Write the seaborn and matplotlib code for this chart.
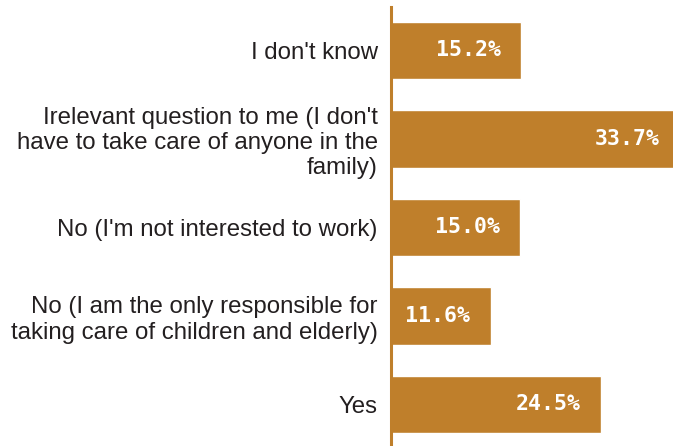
import matplotlib
matplotlib.use("Agg")
import matplotlib.pyplot as plt
import seaborn as sns
import pandas as pd

categories = [
    "I don't know",
    "Irelevant question to me (I don't\nhave to take care of anyone in the\nfamily)",
    "No (I'm not interested to work)",
    "No (I am the only responsible for\ntaking care of children and elderly)",
    "Yes",
]
values = [15.2, 33.7, 15.0, 11.6, 24.5]
value_labels = ["15.2%", "33.7%", "15.0%", "11.6%", "24.5%"]

bar_color = "#BF7F2B"

sns.set_theme(style="white")
plt.rcParams["font.family"] = ["Liberation Sans", "DejaVu Sans"]

W, H = 673, 446
fig = plt.figure(figsize=(W / 100, H / 100), dpi=100)
ax_left = 391 / W
ax = fig.add_axes([ax_left, 0, 1 - ax_left, (H - 7) / H])

df = pd.DataFrame({"category": categories, "value": values})
sns.barplot(data=df, x="value", y="category", orient="h", color=bar_color,
            saturation=1, width=0.65, ax=ax)

ax.set_xlim(0, (W - 391) / 8.58)
ax.set_ylim(4.47, -0.49)
ax.set_xlabel("")
ax.set_ylabel("")
ax.set_xticks([])
for s in ["top", "right", "bottom"]:
    ax.spines[s].set_visible(False)
ax.spines["left"].set_color(bar_color)
ax.spines["left"].set_linewidth(2.2)
ax.tick_params(axis="y", length=0, pad=9.5, labelsize=17.3, labelcolor="#231F20")
for t in ax.get_yticklabels():
    t.set_multialignment("right")
    t.set_linespacing(1.2)

for i, (v, lab) in enumerate(zip(values, value_labels)):
    ax.annotate(lab, xy=(v, i), xytext=(-14.5, 0), textcoords="offset points",
                ha="right", va="center", color="white", fontsize=15.5,
                fontweight="bold", family="DejaVu Sans Mono",
                annotation_clip=False)

fig.savefig("out.png", dpi=100)
